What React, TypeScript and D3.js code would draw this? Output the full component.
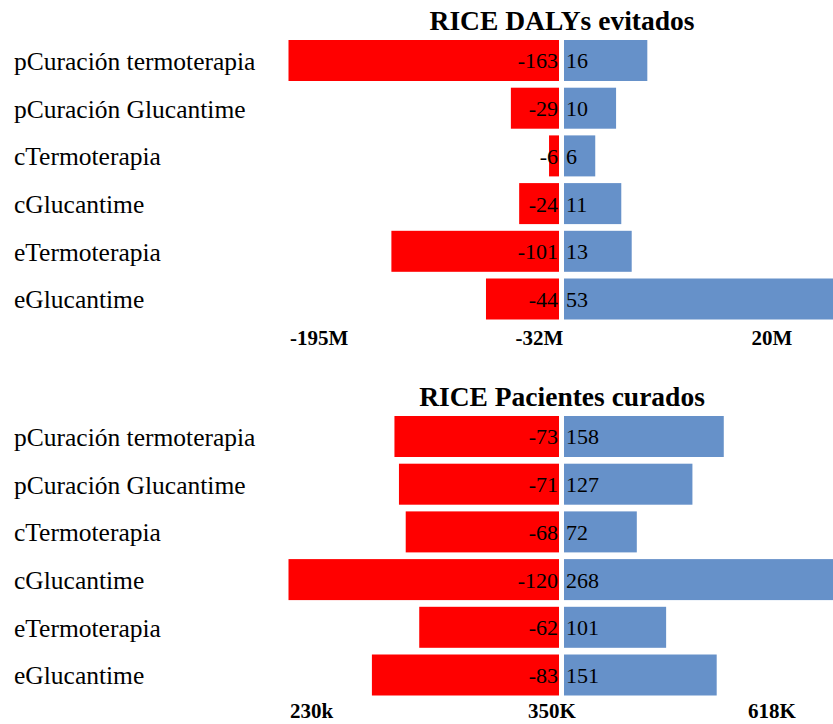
import React from 'react';
import * as d3 from 'd3';

const categories = [
  'pCuración termoterapia',
  'pCuración Glucantime',
  'cTermoterapia',
  'cGlucantime',
  'eTermoterapia',
  'eGlucantime',
];

// RICE DALYs evitados
const dalyLow = [-163, -29, -6, -24, -101, -44];
const dalyHigh = [16, 10, 6, 11, 13, 53];
const dalyTicks = ['-195M', '-32M', '20M'];

// RICE Pacientes curados
const curedLow = [-73, -71, -68, -120, -62, -83];
const curedHigh = [158, 127, 72, 268, 101, 151];
const curedTicks = ['230k', '350K', '618K'];

const W = 833;
const H = 724;
const midLeft = 559;
const midRight = 564;
const serif = "'Times New Roman', 'Liberation Serif', serif";

type PanelProps = {
  title: string;
  low: number[];
  high: number[];
  ticks: string[];
  top: number;
  leftMax: number;
  rightMax: number;
  leftPx: number;
  rightPx: number;
  tickMid: number;
  tickY: number;
};

const Panel = ({ title, low, high, ticks, top, leftMax, rightMax, leftPx, rightPx, tickMid, tickY }: PanelProps) => {
  const y = d3.scalePoint<string>().domain(categories).range([top + 30.5, top + 269]);
  const xl = d3.scaleLinear().domain([0, leftMax]).range([midLeft, midLeft - leftPx]);
  const xr = d3.scaleLinear().domain([0, rightMax]).range([midRight, midRight + rightPx]);
  const bh = 41;

  return (
    <g>
      <text x={562} y={top} textAnchor="middle" fontFamily={serif} fontWeight="bold" fontSize={27.5}>
        {title}
      </text>
      {categories.map((c, i) => (
        <g key={c}>
          <text x={14} y={y(c)!} dy="0.37em" fontFamily={serif} fontSize={25.5}>{c}</text>
          <rect x={xl(-low[i])} y={y(c)! - bh / 2} width={midLeft - xl(-low[i])} height={bh} fill="#ff0000" />
          <rect x={midRight} y={y(c)! - bh / 2} width={xr(high[i]) - midRight} height={bh} fill="#6691c9" />
          <text x={midLeft - 1} y={y(c)!} dy="0.36em" textAnchor="end" fontFamily={serif} fontSize={22}>{low[i]}</text>
          <text x={midRight + 2} y={y(c)!} dy="0.36em" fontFamily={serif} fontSize={22}>{high[i]}</text>
        </g>
      ))}
      <g fontFamily={serif} fontWeight="bold" fontSize={21}>
        <text x={290} y={tickY}>{ticks[0]}</text>
        <text x={tickMid} y={tickY} textAnchor="middle">{ticks[1]}</text>
        <text x={772} y={tickY} textAnchor="middle">{ticks[2]}</text>
      </g>
    </g>
  );
};

export default function App() {
  return (
    <div style={{ position: 'absolute', left: 0, top: 0, background: '#fff' }}>
      <svg width={W} height={H} style={{ display: 'block' }}>
        <rect width={W} height={H} fill="#fff" />
        <Panel title="RICE DALYs evitados" low={dalyLow} high={dalyHigh} ticks={dalyTicks}
          top={30} leftMax={163} rightMax={53} leftPx={270.5} rightPx={276} tickMid={539.5} tickY={345} />
        <Panel title="RICE Pacientes curados" low={curedLow} high={curedHigh} ticks={curedTicks}
          top={406} leftMax={120} rightMax={268} leftPx={270.5} rightPx={271} tickMid={552} tickY={718} />
      </svg>
    </div>
  );
}
